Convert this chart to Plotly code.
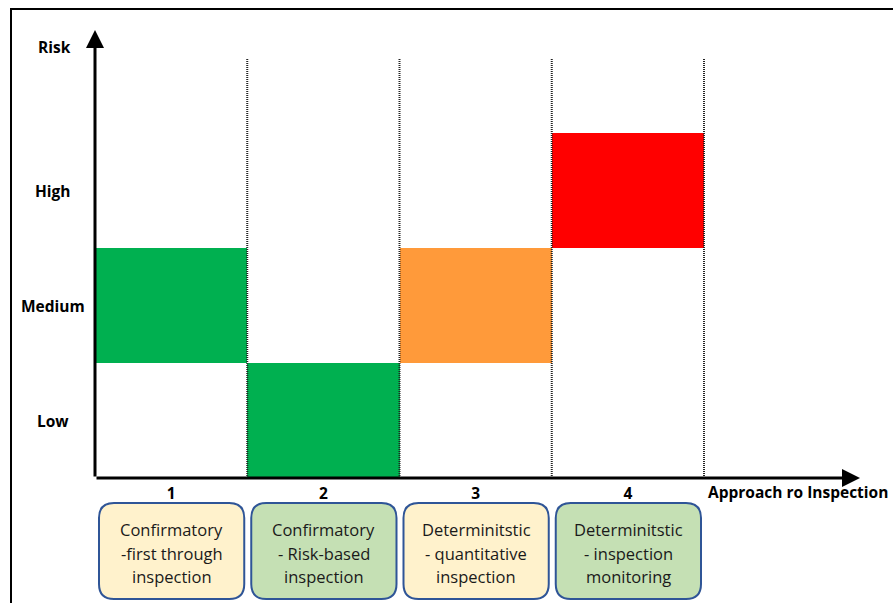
import plotly.graph_objects as go

# Inspection approaches (x) and the risk band each one covers (y)
approaches = ["1", "2", "3", "4"]
risk_levels = ["Low", "Medium", "High"]
approach_risk = ["Medium", "Low", "Medium", "High"]
bar_colors = ["#00B050", "#00B050", "#FF9A3A", "#FF0000"]
box_texts = [
    ["Confirmatory", "-first through", "inspection"],
    ["Confirmatory", "- Risk-based", "inspection"],
    ["Determinitstic", "- quantitative", "inspection"],
    ["Determinitstic", "- inspection", "monitoring"],
]
box_fills = ["#FFF2CC", "#C5E0B4", "#FFF2CC", "#C5E0B4"]

W, H = 893, 603
ML, MR, MT, MB = 95, 33, 30, 125
PW, PH = W - ML - MR, H - MT - MB
COL_PX = 152.25          # pixel width of one approach column
LVL_PX = 115.0           # pixel height of one risk band
X_MAX = PW / COL_PX
Y_MAX = PH / LVL_PX

FONT = "Open Sans"

xpos = [i + 0.5 for i in range(len(approaches))]
base = [risk_levels.index(r) for r in approach_risk]

fig = go.Figure()
fig.add_trace(go.Bar(
    x=xpos, y=[1] * len(approaches), base=base, width=1,
    marker=dict(color=bar_colors, line=dict(width=0)),
    hoverinfo="skip", showlegend=False,
))

shapes = []
# dotted column separators
for i in range(1, len(approaches) + 1):
    shapes.append(dict(type="line", xref="x", yref="y", x0=i, x1=i, y0=0, y1=3.65,
                       line=dict(color="#222", width=2, dash="1px,1px"), layer="above"))


def px_to_paper_x(px):
    return (px - ML) / PW


def px_to_paper_y(py):
    return (H - MB - py) / PH


# outer frame (left and top edges)
shapes.append(dict(type="line", xref="paper", yref="paper",
                   x0=px_to_paper_x(11), x1=px_to_paper_x(11),
                   y0=px_to_paper_y(H + 2), y1=px_to_paper_y(9),
                   line=dict(color="black", width=2)))
shapes.append(dict(type="line", xref="paper", yref="paper",
                   x0=px_to_paper_x(10), x1=px_to_paper_x(W + 2),
                   y0=px_to_paper_y(9), y1=px_to_paper_y(9),
                   line=dict(color="black", width=2)))


def rounded_rect(x0, y0, x1, y1, r):
    # pixel coords -> paper-space SVG path with rounded corners
    def P(x, y):
        return f"{px_to_paper_x(x)},{px_to_paper_y(y)}"
    return (f"M {P(x0 + r, y0)} L {P(x1 - r, y0)} Q {P(x1, y0)} {P(x1, y0 + r)} "
            f"L {P(x1, y1 - r)} Q {P(x1, y1)} {P(x1 - r, y1)} "
            f"L {P(x0 + r, y1)} Q {P(x0, y1)} {P(x0, y1 - r)} "
            f"L {P(x0, y0 + r)} Q {P(x0, y0)} {P(x0 + r, y0)} Z")


annotations = []
box_top, box_bot = 503, 599
line_gap = 23.5
for i, (lines, fill) in enumerate(zip(box_texts, box_fills)):
    x0 = ML + i * COL_PX + 4
    x1 = ML + (i + 1) * COL_PX - 3
    shapes.append(dict(type="path", xref="paper", yref="paper",
                       path=rounded_rect(x0, box_top, x1, box_bot, 15),
                       fillcolor=fill, line=dict(color="#2F5597", width=2)))
    yc = (box_top + box_bot) / 2 + 2
    for j, ln in enumerate(lines):
        annotations.append(dict(xref="paper", yref="paper",
                                x=px_to_paper_x((x0 + x1) / 2),
                                y=px_to_paper_y(yc + (j - 1) * line_gap),
                                text=ln, showarrow=False, align="center",
                                xanchor="center", yanchor="middle",
                                font=dict(family=FONT, size=16.5, color="#1a1a1a")))

# risk-level labels
for k, lvl in enumerate(risk_levels):
    annotations.append(dict(xref="paper", yref="y", x=px_to_paper_x(53), y=k + 0.5,
                            text=f"<b>{lvl}</b>", showarrow=False,
                            xanchor="center", yanchor="middle",
                            font=dict(family=FONT, size=15.5, color="black")))
annotations.append(dict(xref="paper", yref="y", x=px_to_paper_x(54), y=(H - MB - 47) / LVL_PX,
                        text="<b>Risk</b>", showarrow=False,
                        xanchor="center", yanchor="middle",
                        font=dict(family=FONT, size=15.5, color="black")))
annotations.append(dict(xref="paper", yref="paper", x=px_to_paper_x(706),
                        y=px_to_paper_y(492),
                        text="<b>Approach ro Inspection</b>", showarrow=False,
                        xanchor="left", yanchor="middle",
                        font=dict(family=FONT, size=15.5, color="black")))

# axis arrows
annotations.append(dict(x=X_MAX, y=0, ax=0, ay=0, xref="x", yref="y", axref="x", ayref="y",
                        text="", showarrow=True, arrowhead=2, arrowsize=1.2,
                        arrowwidth=3, arrowcolor="black"))
annotations.append(dict(x=0, y=Y_MAX, ax=0, ay=0, xref="x", yref="y", axref="x", ayref="y",
                        text="", showarrow=True, arrowhead=2, arrowsize=1.2,
                        arrowwidth=3, arrowcolor="black"))

fig.update_layout(
    width=W, height=H,
    margin=dict(l=ML, r=MR, t=MT, b=MB),
    paper_bgcolor="white", plot_bgcolor="white",
    bargap=0, showlegend=False,
    shapes=shapes, annotations=annotations,
    xaxis=dict(range=[0, X_MAX], tickvals=xpos, ticktext=[f"<b>{a}</b>" for a in approaches],
               showgrid=False, zeroline=False, showline=False, ticks="",
               ticklabelstandoff=4,
               tickfont=dict(family=FONT, size=15.5, color="black"), fixedrange=True),
    yaxis=dict(range=[0, Y_MAX], showgrid=False, zeroline=False, showline=False,
               showticklabels=False, ticks="", fixedrange=True),
)

fig.write_html("out.html")
